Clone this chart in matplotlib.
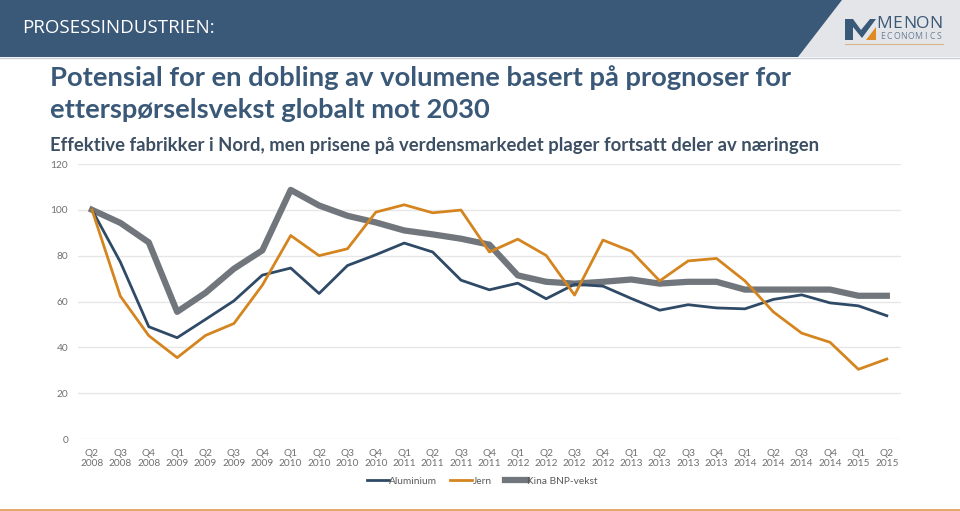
import matplotlib
matplotlib.use("Agg")
import matplotlib.pyplot as plt
from matplotlib.patches import Polygon, Rectangle
from matplotlib.lines import Line2D

plt.rcParams['font.family'] = ['Lato', 'DejaVu Sans']

quarters = ["Q2\n2008", "Q3\n2008", "Q4\n2008",
            "Q1\n2009", "Q2\n2009", "Q3\n2009", "Q4\n2009",
            "Q1\n2010", "Q2\n2010", "Q3\n2010", "Q4\n2010",
            "Q1\n2011", "Q2\n2011", "Q3\n2011", "Q4\n2011",
            "Q1\n2012", "Q2\n2012", "Q3\n2012", "Q4\n2012",
            "Q1\n2013", "Q2\n2013", "Q3\n2013", "Q4\n2013",
            "Q1\n2014", "Q2\n2014", "Q3\n2014", "Q4\n2014",
            "Q1\n2015", "Q2\n2015"]

aluminium = [100, 77.2, 49.0, 44.2, 52.2, 60.3, 71.5, 74.6, 63.5, 75.7, 80.4,
             85.5, 81.6, 69.3, 65.1, 68.0, 61.2, 67.5, 66.7, 61.3, 56.2, 58.6,
             57.2, 56.8, 60.9, 62.9, 59.4, 58.1, 53.8]
jern = [100, 62.3, 45.1, 35.5, 45.2, 50.4, 67.1, 88.8, 80.0, 83.0, 99.0,
        102.2, 98.7, 99.9, 81.6, 87.2, 80.1, 62.8, 86.8, 81.9, 69.0, 77.7,
        78.8, 69.0, 55.5, 46.2, 42.2, 30.4, 34.9]
kina = [100, 94.3, 85.8, 55.5, 63.8, 74.3, 82.3, 108.7, 101.9, 97.4, 94.5,
        91.0, 89.3, 87.4, 84.8, 71.4, 68.6, 67.8, 68.6, 69.6, 67.8, 68.6,
        68.6, 65.2, 65.2, 65.2, 65.2, 62.5, 62.5]

yticks = [0, 20, 40, 60, 80, 100, 120]

C_AL = "#2f4a66"
C_JE = "#d4851f"
C_KI = "#70767c"
HEADER = "#3a5877"

fig = plt.figure(figsize=(9.6, 5.11), dpi=100)
W, H = 960, 511

def px(x, y):
    return (x / W, 1 - y / H)

# header band
fig.patches.append(Rectangle((0, 1 - 57 / H), 1, 57 / H, transform=fig.transFigure,
                             facecolor=HEADER, edgecolor='none', zorder=0))
fig.patches.append(Polygon([px(842, 0), px(960, 0), px(960, 57), px(798, 57)],
                           closed=True, transform=fig.transFigure,
                           facecolor="#e3e5e8", edgecolor='none', zorder=1))
fig.add_artist(Line2D([0, 1], [1 - 58 / H, 1 - 58 / H], transform=fig.transFigure,
                      color="#c8ced6", lw=1))
fig.text(22 / W, 1 - 28 / H, "PROSESSINDUSTRIEN:", color="white", fontsize=13.5,
         va='center', ha='left', family=['Open Sans', 'DejaVu Sans'])

# logo
fig.patches.append(Polygon([px(845, 19), px(853, 19), px(861, 30), px(870, 19), px(876, 19),
                            px(862, 38), px(853, 27), px(853, 40), px(845, 40)],
                           closed=True, transform=fig.transFigure,
                           facecolor="#3a5877", edgecolor='none', zorder=2))
fig.patches.append(Polygon([px(866, 40), px(876, 27), px(876, 40)],
                           closed=True, transform=fig.transFigure,
                           facecolor="#e08a22", edgecolor='none', zorder=2))
for i, ch in enumerate("MENON"):
    fig.text((884 + i * 13.0) / W, 1 - 24 / H, ch, color=HEADER, fontsize=12.5, va='center',
             ha='center', family=['Open Sans', 'DejaVu Sans'])
for i, ch in enumerate("ECONOMICS"):
    fig.text((882.5 + i * 7.1) / W, 1 - 36.5 / H, ch, color="#6a7f96", fontsize=6.3,
             va='center', ha='center', family=['Open Sans', 'DejaVu Sans'])
fig.add_artist(Line2D([845 / W, 943 / W], [1 - 44 / H, 1 - 44 / H], transform=fig.transFigure,
                      color="#d8b48a", lw=0.8))

# titles
fig.text(50 / W, 1 - 78 / H, "Potensial for en dobling av volumene basert på prognoser for",
         color=HEADER, fontsize=19.7, fontweight='bold', va='center', ha='left')
fig.text(50 / W, 1 - 110 / H, "etterspørselsvekst globalt mot 2030",
         color=HEADER, fontsize=19.7, fontweight='bold', va='center', ha='left')
fig.text(50 / W, 1 - 146 / H,
         "Effektive fabrikker i Nord, men prisene på verdensmarkedet plager fortsatt deler av næringen",
         color="#3d4f63", fontsize=13.35, fontweight='bold', va='center', ha='left')

# bottom orange line
fig.add_artist(Line2D([0, 1], [1 - 509.5 / H, 1 - 509.5 / H], transform=fig.transFigure,
                      color="#e0a463", lw=2))

ax = fig.add_axes([77.8 / W, 1 - 439 / H, (901 - 77.8) / W, (439 - 164) / H])
x = list(range(len(quarters)))
ax.plot(x, aluminium, color=C_AL, lw=2, label="Aluminium", solid_joinstyle='round', zorder=3)
ax.plot(x, jern, color=C_JE, lw=2, label="Jern", solid_joinstyle='round', zorder=3)
ax.plot(x, kina, color=C_KI, lw=4.5, label="Kina BNP-vekst", solid_joinstyle='round', zorder=2)

ax.set_xlim(-0.5, len(quarters) - 0.5)
ax.set_ylim(0, 120)
ax.set_yticks(yticks)
ax.set_yticklabels([str(v) for v in yticks])
ax.set_xticks(x)
ax.set_xticklabels(quarters)
ax.grid(axis='y', color="#e6e6e6", lw=1)
ax.set_axisbelow(True)
for s in ax.spines.values():
    s.set_visible(False)
ax.tick_params(axis='both', length=0, labelsize=7.3, labelcolor="#707070")
ax.tick_params(axis='y', pad=7)
ax.tick_params(axis='x', pad=7)
for t in ax.get_xticklabels():
    t.set_linespacing(1.25)

leg = fig.legend(loc='center', bbox_to_anchor=(482 / W, 1 - 481 / H), ncol=3, frameon=False,
                 fontsize=7.3, handlelength=2.2, handletextpad=0.0, columnspacing=1.3)
for t in leg.get_texts():
    t.set_color("#595959")

fig.savefig("out.png", dpi=100)
